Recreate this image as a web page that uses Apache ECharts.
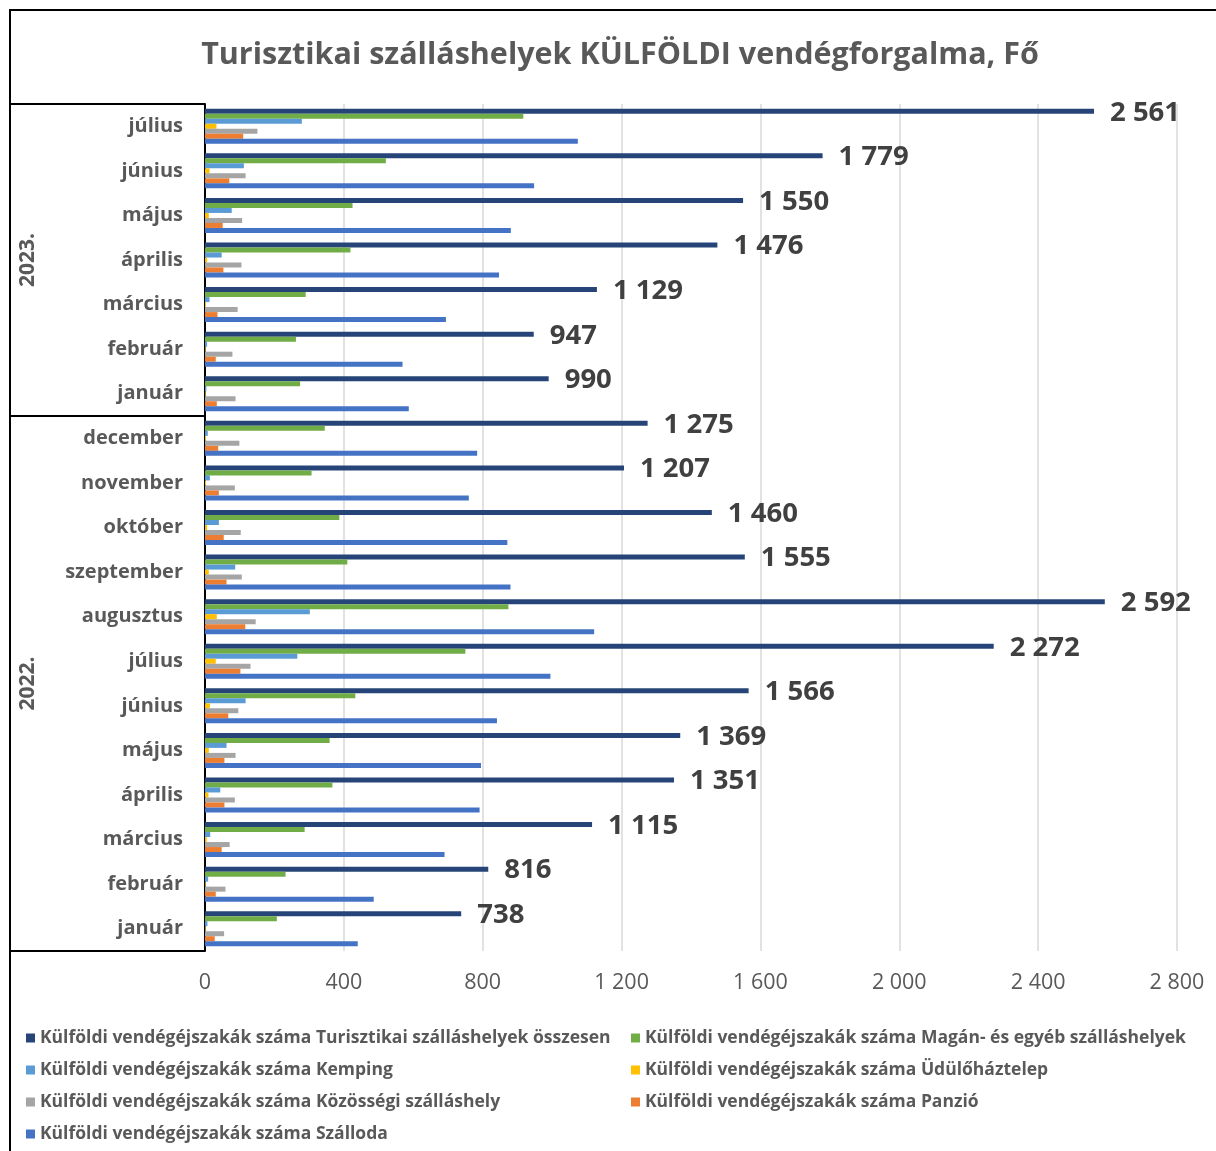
<!DOCTYPE html>
<html>
<head>
<meta charset="utf-8">
<script src="https://cdn.jsdelivr.net/npm/echarts@6/dist/echarts.min.js"></script>
<style>
html,body{margin:0;padding:0;background:#fff;}
#chart{width:1216px;height:1151px;}
</style>
</head>
<body>
<div id="chart"></div>
<script>
// Categories, bottom to top
var months = ['január','február','március','április','május','június','július','augusztus','szeptember','október','november','december',
              'január','február','március','április','május','június','július'];
var yearGroups = [{label:'2022.', from:0, to:11},{label:'2023.', from:12, to:18}];
var xTicks = [0,400,800,1200,1600,2000,2400,2800];

var seriesNames = [
  'Külföldi vendégéjszakák száma Turisztikai szálláshelyek összesen',
  'Külföldi vendégéjszakák száma Magán- és egyéb szálláshelyek',
  'Külföldi vendégéjszakák száma Kemping',
  'Külföldi vendégéjszakák száma Üdülőháztelep',
  'Külföldi vendégéjszakák száma Közösségi szálláshely',
  'Külföldi vendégéjszakák száma Panzió',
  'Külföldi vendégéjszakák száma Szálloda'
];
var osszesen   = [738,816,1115,1351,1369,1566,2272,2592,1555,1460,1207,1275, 990,947,1129,1476,1550,1779,2561];
var magan      = [207,232,287,367,359,433,750,874,410,387,307,345, 274,262,290,419,425,521,917];
var kemping    = [7,9,15,44,62,117,266,302,87,40,14,8, 4,6,13,48,77,112,279];
var udulo      = [2,2,5,10,11,14,31,34,11,6,3,3, 2,2,3,6,11,13,33];
var kozossegi  = [55,59,71,86,88,96,131,146,106,103,86,99, 88,79,94,105,107,117,151];
var panzio     = [28,31,48,56,56,67,102,116,62,54,40,38, 34,31,36,53,51,70,110];
var szalloda   = [440,486,690,791,795,841,995,1121,880,871,760,784, 587,569,694,847,881,948,1074];

var seriesData = [osszesen, magan, kemping, udulo, kozossegi, panzio, szalloda];
var colors = ['#264478','#70AD47','#5B9BD5','#FFC000','#A5A5A5','#ED7D31','#4472C4'];

function fmt(v){ return String(v).replace(/\B(?=(\d{3})+(?!\d))/g,' '); }

var FONT = '"Open Sans"';
var chart = echarts.init(document.getElementById('chart'));

var series = seriesData.map(function(d,i){
  var s = {
    name: seriesNames[i], type:'bar', data:d, barWidth:5, barGap:'0%',
    itemStyle:{color:colors[i]}, animation:false
  };
  if(i===0){
    s.label = {show:true, position:'right', distance:16, offset:[0,1.5], formatter:function(p){return fmt(p.value);},
      fontFamily:FONT, fontWeight:'bold', fontSize:27.5, color:'#404040'};
  }
  return s;
});

var legendText = {fontFamily:FONT, fontWeight:'bold', fontSize:17.5, lineHeight:18, color:'#595959'};
var option = {
  backgroundColor:'#fff',
  animation:false,
  color: colors,
  title:{ text:'Turisztikai szálláshelyek KÜLFÖLDI vendégforgalma, Fő', left:615, textAlign:'center', top:35,
    textStyle:{fontFamily:FONT, fontWeight:'bold', fontSize:30.5, color:'#595959'} },
  legend:[
    { orient:'vertical', left:21, top:1024, itemWidth:9, itemHeight:9, itemGap:14, icon:'rect',
      data:[seriesNames[0],seriesNames[2],seriesNames[4],seriesNames[6]], textStyle:legendText },
    { orient:'vertical', left:626, top:1024, itemWidth:9, itemHeight:9, itemGap:14, icon:'rect',
      data:[seriesNames[1],seriesNames[3],seriesNames[5]], textStyle:legendText }
  ],
  grid:{ left:205, right:39, top:104, bottom:200, containLabel:false },
  xAxis:{ type:'value', min:0, max:2800, interval:400,
    axisLine:{show:false}, axisTick:{show:false},
    splitLine:{lineStyle:{color:'#d9d9d9', width:1.5}},
    axisLabel:{ margin:21, fontFamily:FONT, fontSize:21.5, color:'#595959', formatter:function(v){return fmt(v);} } },
  yAxis:{ type:'category', data:months,
    axisLine:{show:true, lineStyle:{color:'#000', width:2}},
    axisTick:{show:false},
    axisLabel:{ margin:22, fontFamily:FONT, fontWeight:'bold', fontSize:20, color:'#595959', padding:[2,0,0,0] } },
  series: series
};
chart.setOption(option);

function drawDecor(){
  var x0 = chart.convertToPixel({gridIndex:0},[0,0])[0];
  var band = Math.abs(chart.convertToPixel({yAxisIndex:0},0) - chart.convertToPixel({yAxisIndex:0},1));
  function edgeBelow(i){ return chart.convertToPixel({yAxisIndex:0}, i) + band/2; }
  function edgeAbove(i){ return chart.convertToPixel({yAxisIndex:0}, i) - band/2; }
  var els = [
    {type:'rect', shape:{x:10,y:10,width:1300,height:1300}, style:{fill:null, stroke:'#000', lineWidth:2}, silent:true, z:100}
  ];
  var bounds = [edgeAbove(months.length-1), edgeBelow(yearGroups[1].from), edgeBelow(0)];
  bounds.forEach(function(y){
    els.push({type:'line', shape:{x1:10,y1:y,x2:x0,y2:y}, style:{stroke:'#000', lineWidth:2}, silent:true, z:100});
  });
  yearGroups.forEach(function(g){
    var yc = (edgeBelow(g.from) + edgeAbove(g.to))/2;
    els.push({type:'text', x:28, y:yc, rotation:Math.PI/2,
      style:{text:g.label, fontFamily:FONT, fontWeight:'bold', fontSize:21, fill:'#595959', align:'center', verticalAlign:'middle'}, z:100});
  });
  chart.setOption({graphic:{elements:els}});
}
drawDecor();
</script>
</body>
</html>
